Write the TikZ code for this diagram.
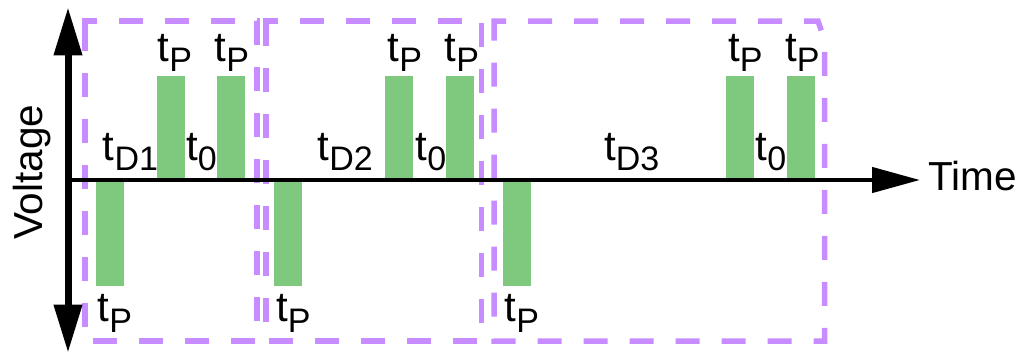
\documentclass[tikz,border=0pt]{standalone}
\usepackage{fontspec}
\setmainfont{Liberation Sans}
\usetikzlibrary{arrows.meta}
\definecolor{pulsegreen}{RGB}{127,201,127}
\definecolor{framepurple}{RGB}{199,140,255}
\newcommand{\tsub}[1]{t\raisebox{-10.5pt}{\fontsize{34}{36}\selectfont #1}}

\begin{document}
\begin{tikzpicture}[
  x=1pt,
  y=-1pt,
  pulse/.style={fill=pulsegreen, inner sep=0, minimum width=28pt},
  pulseup/.style={pulse, anchor=south west, minimum height=104.3pt},
  pulsedown/.style={pulse, anchor=north west, minimum height=105.5pt},
  period/.style={draw=framepurple, line width=5.5pt, dash pattern=on 24pt off 22pt},
  lab/.style={inner sep=0, anchor=base west, font=\fontsize{42}{44}\selectfont},
  axislab/.style={inner sep=0, anchor=base west, font=\fontsize{40.5}{44}\selectfont},
  vaxis/.style={line width=7pt,
    arrows={Triangle[length=48pt,width=27pt]-Triangle[length=48pt,width=27pt]}},
  haxis/.style={line width=4.5pt, arrows={-Triangle[length=48pt,width=25pt]}}
]
  \useasboundingbox (0,0) rectangle (1023,354);

  % Dashed frames around the three periods.
  \draw[period] (85,33) -- (85,21) -- (257,21) -- (257,341) -- (85,341) -- cycle;
  \draw[period] (266,33) -- (266,21) -- (481.7,21) -- (481.7,341) -- (266,341) -- cycle;
  \draw[period] (494,33) -- (494,21) -- (818,21) -- (824.5,40) -- (824.5,341)
    -- (494,341) -- cycle;

  % Pulses: one negative, then two positive ones per period.
  \node[pulsedown] at (96,180)    (p10) {};
  \node[pulseup]   at (157,180)   (p11) {};
  \node[pulseup]   at (217,180)   (p12) {};
  \node[pulsedown] at (274,180)   (p20) {};
  \node[pulseup]   at (385,180)   (p21) {};
  \node[pulseup]   at (446,180)   (p22) {};
  \node[pulsedown] at (502.5,180) (p30) {};
  \node[pulseup]   at (726,180)   (p31) {};
  \node[pulseup]   at (787,180)   (p32) {};

  % Pulse and delay labels.
  \node[lab] at (97.4,321.7)  (tp10) {\tsub{P}};
  \node[lab] at (157.5,61)    (tp11) {\tsub{P}};
  \node[lab] at (214.5,61)    (tp12) {\tsub{P}};
  \node[lab] at (102.7,160)   (td1)  {\tsub{D1}};
  \node[lab] at (186,160)     (t01)  {\tsub{0}};
  \node[lab] at (276,321.7)   (tp20) {\tsub{P}};
  \node[lab] at (387.4,61)    (tp21) {\tsub{P}};
  \node[lab] at (444.4,61)    (tp22) {\tsub{P}};
  \node[lab] at (317.4,160)   (td2)  {\tsub{D2}};
  \node[lab] at (415.4,160)   (t02)  {\tsub{0}};
  \node[lab] at (504.4,321.7) (tp30) {\tsub{P}};
  \node[lab] at (728,61)      (tp31) {\tsub{P}};
  \node[lab] at (785,61)      (tp32) {\tsub{P}};
  \node[lab] at (604,160)     (td3)  {\tsub{D3}};
  \node[lab] at (755.4,160)   (t03)  {\tsub{0}};

  % Axes.
  \coordinate (origin) at (68,180);
  \coordinate (vtop)   at (68,7.3);
  \coordinate (vbot)   at (68,352.7);
  \coordinate (tend)   at (920,180);
  \draw[vaxis] (vbot) -- (vtop);
  \draw[haxis] (origin) -- (tend);
  \node[axislab, rotate=90] at (42.7,240) (voltlab) {Voltage};
  \node[axislab] at (928.5,190)           (timelab) {Time};

\end{tikzpicture}
\end{document}
